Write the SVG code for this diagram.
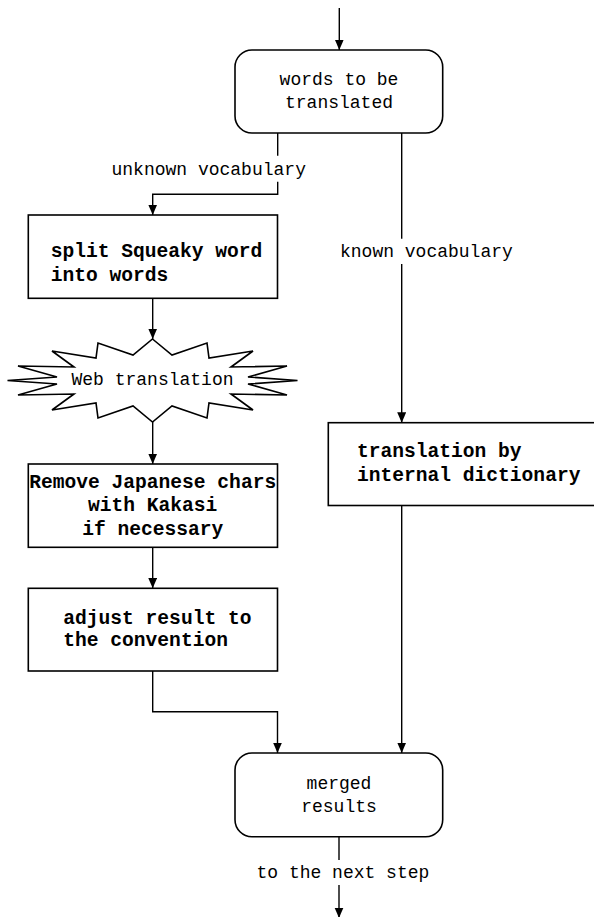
<svg xmlns="http://www.w3.org/2000/svg" width="594" height="917" viewBox="0 0 594 917">
<style>
.box{fill:#fff;stroke:#000;stroke-width:1.6}
.ln{fill:none;stroke:#000;stroke-width:1.4}
.t{font-family:"Liberation Mono","Courier New",monospace;font-size:18px;fill:#000}
.b{font-family:"Liberation Mono","Courier New",monospace;font-size:19.6px;font-weight:bold;fill:#000}
.m{text-anchor:middle}
</style>
<defs>
<marker id="ah" markerUnits="userSpaceOnUse" markerWidth="11" markerHeight="10" refX="10.5" refY="4.5" orient="auto">
<path d="M0,0 L10.5,4.5 L0,9 z" fill="#000"/>
</marker>
</defs>
<rect width="594" height="917" fill="#fff"/>
<g id="connectors">
<path class="ln" d="M339.3,8 V50" marker-end="url(#ah)"/>
<path class="ln" d="M277.7,133 V155.7"/>
<path class="ln" d="M277.7,181.7 V194.3 H152.7 V215" marker-end="url(#ah)"/>
<path class="ln" d="M401.7,133 V238.7"/>
<path class="ln" d="M401.7,264 V422.7" marker-end="url(#ah)"/>
<path class="ln" d="M152.7,298.3 V339" marker-end="url(#ah)"/>
<path class="ln" d="M152.7,422 V464" marker-end="url(#ah)"/>
<path class="ln" d="M152.7,547.3 V588.3" marker-end="url(#ah)"/>
<path class="ln" d="M152.7,671 V711.7 H277.5 V753" marker-end="url(#ah)"/>
<path class="ln" d="M401.7,505.5 V753" marker-end="url(#ah)"/>
<path class="ln" d="M339,836.7 V860"/>
<path class="ln" d="M339,885 V918" marker-end="url(#ah)"/>
<text class="t" x="111.5" y="175">unknown vocabulary</text>
<text class="t" x="340" y="256.5">known vocabulary</text>
<text class="t" x="256.5" y="878">to the next step</text>
</g>
<g id="words">
<rect class="box" x="235" y="50" width="207.7" height="83" rx="17" ry="17"/>
<text class="t m" x="339" y="85">words to be</text>
<text class="t m" x="339" y="108">translated</text>
</g>
<g id="split">
<rect class="box" x="28.3" y="215" width="249.2" height="83.3"/>
<text class="b" x="50.7" y="257">split Squeaky word</text>
<text class="b" x="50.7" y="280.5">into words</text>
</g>
<g id="web">
<polygon class="box" points="152.5,339 172,355 207,343 209,358 253,351 231,367 287,366 248,377 297.5,380.5 248,384 287,395 231,394 253,410 209,403 207,418 172,406 152.5,422 133,406 98,418 96,403 52,410 74,394 18,395 57,384 7.5,380.5 57,377 18,366 74,367 52,351 96,358 98,343 133,355"/>
<text class="t m" x="152.5" y="385">Web translation</text>
</g>
<g id="remove">
<rect class="box" x="28.3" y="464" width="249.2" height="83.3"/>
<text class="b m" x="152.7" y="488">Remove Japanese chars</text>
<text class="b m" x="152.7" y="511">with Kakasi</text>
<text class="b m" x="152.7" y="535">if necessary</text>
</g>
<g id="adjust">
<rect class="box" x="28.3" y="588.3" width="249.2" height="82.7"/>
<text class="b" x="63.3" y="623.5">adjust result to</text>
<text class="b" x="63.3" y="645.5">the convention</text>
</g>
<g id="dictionary">
<rect class="box" x="328.3" y="422.7" width="270" height="82.8"/>
<text class="b" x="357" y="457">translation by</text>
<text class="b" x="357" y="480.5">internal dictionary</text>
</g>
<g id="merged">
<rect class="box" x="235" y="753" width="207.7" height="83.7" rx="17" ry="17"/>
<text class="t m" x="339" y="789">merged</text>
<text class="t m" x="339" y="811.5">results</text>
</g>
</svg>
